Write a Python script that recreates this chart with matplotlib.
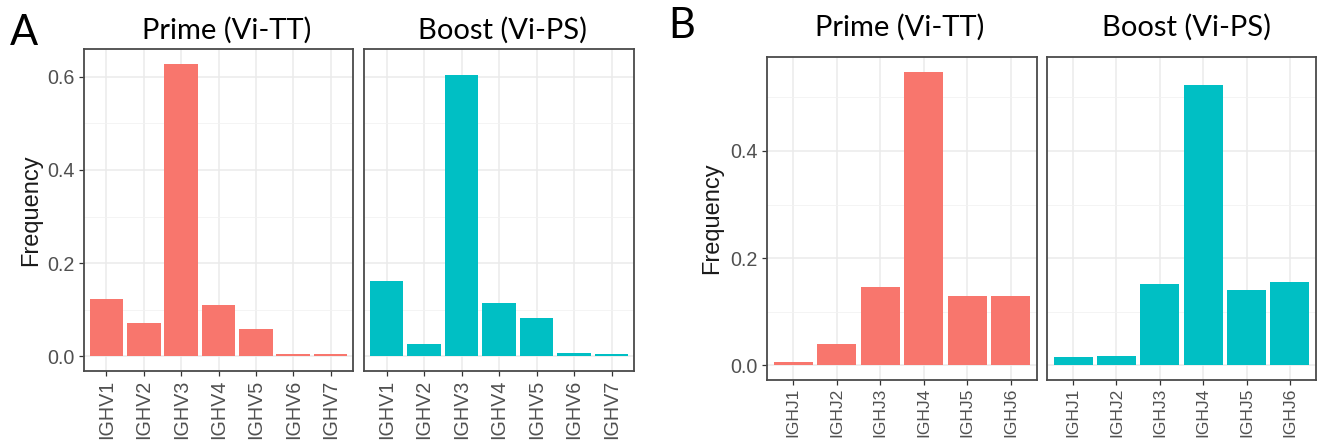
import matplotlib
matplotlib.use("Agg")
import matplotlib.pyplot as plt
from matplotlib.ticker import MultipleLocator

# ---------------- data ----------------
v_genes = ["IGHV1", "IGHV2", "IGHV3", "IGHV4", "IGHV5", "IGHV6", "IGHV7"]
v_prime = [0.123, 0.072, 0.628, 0.110, 0.058, 0.004, 0.004]
v_boost = [0.162, 0.027, 0.604, 0.114, 0.083, 0.007, 0.004]

j_genes = ["IGHJ1", "IGHJ2", "IGHJ3", "IGHJ4", "IGHJ5", "IGHJ6"]
j_prime = [0.007, 0.040, 0.147, 0.548, 0.130, 0.130]
j_boost = [0.016, 0.018, 0.151, 0.524, 0.141, 0.155]

facet_titles = ["Prime (Vi-TT)", "Boost (Vi-PS)"]
panel_letters = ["A", "B"]
y_label = "Frequency"
colors = ["#F8766D", "#00BFC4"]

# ---------------- layout ----------------
W, H = 1320, 442
fig = plt.figure(figsize=(W / 100, H / 100), dpi=100)


def px_axes(x0, x1, y0, y1):
    return fig.add_axes([x0 / W, 1 - y1 / H, (x1 - x0) / W, (y1 - y0) / H])


sans = ["Liberation Sans", "DejaVu Sans"]
title_fam = ["Lato", "DejaVu Sans"]

panels = [
    dict(genes=v_genes, series=[v_prime, v_boost],
         boxes=[(84, 353, 49, 371), (364, 634, 49, 371)],
         yticks=[0.0, 0.2, 0.4, 0.6], tcenters=[227, 503], tbase=39,
         letter=(10, 45), ylab=(31, 210), xsize=14.2, xpad=3),
    dict(genes=j_genes, series=[j_prime, j_boost],
         boxes=[(767, 1037, 57, 380), (1047, 1316, 57, 380)],
         yticks=[0.0, 0.2, 0.4], tcenters=[900, 1186], tbase=36,
         letter=(668, 38), ylab=(712, 218), xsize=12.6, xpad=2),
]

for p, letter in zip(panels, panel_letters):
    genes = p["genes"]
    ymax = max(max(s) for s in p["series"])
    pad = 0.05 * ymax
    xs = list(range(1, len(genes) + 1))
    for k, (series, box) in enumerate(zip(p["series"], p["boxes"])):
        ax = px_axes(*box)
        ax.set_axisbelow(True)
        ax.bar(xs, series, width=0.9, color=colors[k], linewidth=0, zorder=2)
        ax.set_xlim(0.4, len(genes) + 0.6)
        ax.set_ylim(-pad, ymax + pad)
        ax.set_xticks(xs)
        ax.set_xticklabels(genes, rotation=90, family=sans, size=p["xsize"],
                           color="#505050")
        ax.set_yticks(p["yticks"])
        ax.yaxis.set_minor_locator(MultipleLocator(0.1))
        ax.grid(which="major", color="#EBEBEB", linewidth=1.1)
        ax.grid(which="minor", axis="y", color="#F2F2F2", linewidth=0.6)
        ax.tick_params(axis="both", which="major", length=3.5, width=0.9,
                       color="#333333", pad=3)
        ax.tick_params(axis="x", which="major", pad=p["xpad"])
        ax.tick_params(axis="y", which="minor", length=0)
        if k == 0:
            ax.set_yticklabels([f"{t:.1f}" for t in p["yticks"]], family=sans,
                               size=14.2, color="#505050")
        else:
            ax.tick_params(axis="y", which="major", length=0, labelleft=False)
        for s in ax.spines.values():
            s.set_color("#4A4A4A")
            s.set_linewidth(1.3)
        fig.text(p["tcenters"][k] / W, 1 - p["tbase"] / H, facet_titles[k],
                 ha="center", va="baseline", family=title_fam, fontsize=21,
                 color="#000000")
    fig.text(p["letter"][0] / W, 1 - p["letter"][1] / H, letter, ha="left",
             va="baseline", family=title_fam, fontsize=30, color="#000000")
    fig.text(p["ylab"][0] / W, 1 - p["ylab"][1] / H, y_label, rotation=90,
             ha="center", va="center", family=sans,
             fontsize=17, color="#1A1A1A")

fig.savefig("out.png", dpi=100, facecolor="white")
